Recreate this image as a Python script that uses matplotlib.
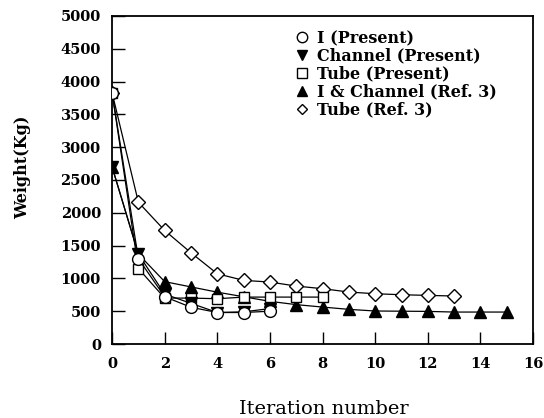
import matplotlib
matplotlib.use("Agg")
import matplotlib.pyplot as plt
from matplotlib.lines import Line2D

it_I = [0, 1, 2, 3, 4, 5, 6]
w_I = [3830, 1300, 720, 560, 480, 480, 500]

it_ch = [0, 1, 2, 3, 4, 5, 6]
w_ch = [2700, 1370, 760, 620, 480, 490, 540]

it_tube = [0, 1, 2, 3, 4, 5, 6, 7, 8]
w_tube = [3830, 1150, 700, 700, 690, 715, 715, 715, 715]

it_ich3 = list(range(16))
w_ich3 = [2700, 1370, 950, 870, 790, 720, 650, 600, 563, 528, 503, 500, 497, 487, 487, 487]

it_tube3 = list(range(14))
w_tube3 = [3830, 2160, 1730, 1390, 1070, 970, 944, 883, 843, 792, 766, 751, 741, 731]

labels = ["I (Present)", "Channel (Present)", "Tube (Present)",
          "I & Channel (Ref. 3)", "Tube (Ref. 3)"]

plt.rcParams['font.family'] = ['DejaVu Serif']
fig = plt.figure(figsize=(5.44, 4.18), dpi=100)
ax = fig.add_axes([0.206, 0.177, 0.774, 0.785])

ms = 8.5
common = dict(color='black', lw=0.9, mec='black', mew=1.0)
ax.plot(it_tube3, w_tube3, marker='D', ms=ms*0.8, mfc='white', **common, zorder=2)
ax.plot(it_ich3, w_ich3, marker='^', ms=ms, mfc='black', **common, zorder=3)
ax.plot(it_tube, w_tube, marker='s', ms=ms*0.9, mfc='white', **common, zorder=4)
ax.plot(it_ch, w_ch, marker='v', ms=ms, mfc='black', **common, zorder=5)
ax.plot(it_I, w_I, marker='o', ms=ms, mfc='white', **common, zorder=6)

handles = [
    Line2D([], [], ls='none', marker='o', ms=7.5, mfc='white', mec='black'),
    Line2D([], [], ls='none', marker='v', ms=7.5, mfc='black', mec='black'),
    Line2D([], [], ls='none', marker='s', ms=6.5, mfc='white', mec='black'),
    Line2D([], [], ls='none', marker='^', ms=7.5, mfc='black', mec='black'),
    Line2D([], [], ls='none', marker='D', ms=5.5, mfc='white', mec='black'),
]
ax.legend(handles, labels, loc='upper left', bbox_to_anchor=(0.432, 0.957),
          frameon=False, handletextpad=0.45, labelspacing=0.05,
          prop=dict(family='DejaVu Serif', weight='bold', size=11.5),
          handlelength=1.0, borderpad=0.0, borderaxespad=0.0)

ax.set_xlim(0, 16)
ax.set_ylim(0, 5000)
ax.set_xticks(range(0, 17, 2))
ax.set_yticks(range(0, 5001, 500))
ax.tick_params(direction='in', length=9, width=1.0, top=False, right=False,
               labelsize=10.5)
ax.tick_params(axis='x', pad=9)
ax.tick_params(axis='y', pad=8)
for lab in ax.get_xticklabels() + ax.get_yticklabels():
    lab.set_fontweight('bold')
for s in ax.spines.values():
    s.set_linewidth(1.3)

fig.text(0.042, 0.60, "Weight(Kg)", rotation=90, ha='center', va='center',
         fontsize=11.5, fontweight='bold')
fig.text(0.595, 0.022, "Iteration number", ha='center', va='center',
         fontsize=14)

fig.savefig("out.png", dpi=100)
